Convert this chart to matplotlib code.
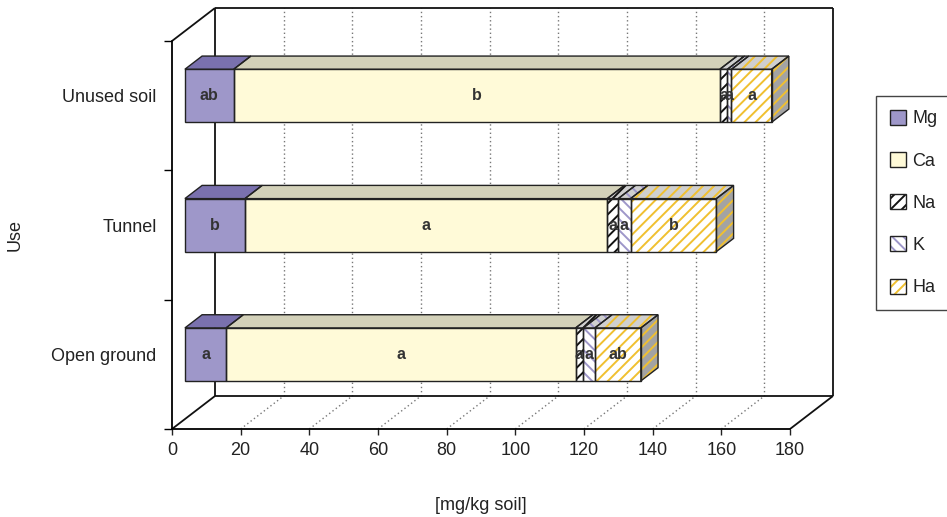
import matplotlib.pyplot as plt
from matplotlib.patches import Polygon, Patch
from matplotlib.legend_handler import HandlerTuple

plt.rcParams['font.family'] = ['Liberation Sans', 'DejaVu Sans']
plt.rcParams['hatch.linewidth'] = 1.4

# data (mg/kg soil)
uses = ['Open ground', 'Tunnel', 'Unused soil']
elements = ['Mg', 'Ca', 'Na', 'K', 'Ha']
mg = [12.0, 17.5, 14.2]
ca = [101.8, 105.5, 141.6]
na = [2.2, 3.2, 2.2]
k = [3.4, 3.6, 1.2]
ha = [13.4, 25.0, 11.7]

# significance letters
mg_letters = ['a', 'b', 'ab']
ca_letters = ['a', 'a', 'b']
na_letters = ['a', 'a', 'a']
k_letters = ['a', 'a', 'a']
ha_letters = ['ab', 'b', 'a']

xticks = list(range(0, 181, 20))

# styles
front_colors = ['#9e97c9', '#fffad8', 'white', 'white', 'white']
top_colors = ['#7a71ae', '#d3d1b9', '#cfcfcf', '#cfcfcf', '#cfcfcf']
side_color = '#a3a3a3'
hatches = [None, None, '///', '\\\\\\', '///']
hatch_colors = ['none', 'none', '#111111', '#9e97c9', '#f0c030']
txt = '#222222'

# pixel scale of the original picture
PX = 618 / 180.0
PY = 388 / 3.0
DX = 43 / PX   # depth offset, x
DY = 33 / PY   # depth offset, y
f0, f1 = 0.3, 0.7
h = 53 / PY

fig = plt.figure(figsize=(9.47, 5.17), dpi=100)
ax = fig.add_axes([172 / 947, 88 / 517, 668 / 947, 426 / 517])
ax.set_xlim(0, 668 / PX)
ax.set_ylim(0, 426 / PY)

# walls
ax.add_patch(Polygon([(DX, DY), (180 + DX, DY), (180 + DX, 3 + DY), (DX, 3 + DY)],
                     facecolor='white', edgecolor='none', zorder=0))
frame = dict(color='#111111', lw=1.3, zorder=1, solid_capstyle='butt')
ax.plot([0, DX], [0, DY], **frame)
ax.plot([0, DX], [3, 3 + DY], **frame)
ax.plot([DX, DX], [DY, 3 + DY], **frame)
ax.plot([DX, 180 + DX], [DY, DY], **frame)
ax.plot([DX, 180 + DX], [3 + DY, 3 + DY], **frame)
ax.plot([180 + DX, 180 + DX], [DY, 3 + DY], **frame)
ax.plot([180, 180 + DX], [0, DY], **frame)
for x in xticks[1:-1]:
    ax.plot([x + DX, x + DX], [DY, 3 + DY], color='#777777', lw=1, ls=(0, (1, 2)), zorder=0.5)
    ax.plot([x, x + DX], [0, DY], color='#777777', lw=1, ls=(0, (1, 2)), zorder=0.5)


def face(poly, fc, hatch, hc, z):
    ax.add_patch(Polygon(poly, facecolor=fc, edgecolor=hc, hatch=hatch, lw=0, zorder=z))
    ax.add_patch(Polygon(poly, fill=False, edgecolor='#222222', lw=1, zorder=z + 0.1))


series = [mg, ca, na, k, ha]
letters = [mg_letters, ca_letters, na_letters, k_letters, ha_letters]
for i in range(len(uses)):
    y0 = i + 0.5 - h / 2
    y1 = i + 0.5 + h / 2
    left = 0
    for j in range(len(elements)):
        a = left
        b = left + series[j][i]
        front = [(a + f0 * DX, y0 + f0 * DY), (b + f0 * DX, y0 + f0 * DY),
                 (b + f0 * DX, y1 + f0 * DY), (a + f0 * DX, y1 + f0 * DY)]
        top = [(a + f0 * DX, y1 + f0 * DY), (b + f0 * DX, y1 + f0 * DY),
               (b + f1 * DX, y1 + f1 * DY), (a + f1 * DX, y1 + f1 * DY)]
        face(front, front_colors[j], hatches[j], hatch_colors[j], 3)
        face(top, top_colors[j], hatches[j], hatch_colors[j], 3)
        if j == len(elements) - 1:
            side = [(b + f0 * DX, y0 + f0 * DY), (b + f1 * DX, y0 + f1 * DY),
                    (b + f1 * DX, y1 + f1 * DY), (b + f0 * DX, y1 + f0 * DY)]
            face(side, side_color, hatches[j], hatch_colors[j], 3)
        ax.text((a + b) / 2 + f0 * DX, i + 0.5 + f0 * DY, letters[j][i],
                ha='center', va='center', fontsize=11.5, fontweight='bold',
                color='#333333', zorder=5)
        left = b

# axes
for s in ['top', 'right']:
    ax.spines[s].set_visible(False)
ax.spines['bottom'].set_bounds(0, 180)
ax.spines['left'].set_bounds(0, 3)
ax.spines['bottom'].set_linewidth(1.3)
ax.spines['left'].set_linewidth(1.3)
ax.set_xticks(xticks)
ax.set_xticklabels([str(x) for x in xticks])
ax.tick_params(axis='x', length=4.5, width=1, pad=5, labelsize=13, colors=txt)
ax.set_yticks([i + 0.5 + f0 * DY for i in range(len(uses))])
ax.set_yticklabels(uses)
ax.tick_params(axis='y', which='major', length=0, pad=11, labelsize=13, colors=txt)
ax.set_yticks([0, 1, 2, 3], minor=True)
ax.tick_params(axis='y', which='minor', length=6, width=1)

fig.text(481 / 947, 1 - 505 / 517, '[mg/kg soil]', ha='center', va='center', fontsize=13, color=txt)
fig.text(15 / 947, 1 - 235 / 517, 'Use', ha='center', va='center', rotation=90, fontsize=13, color=txt)

handles = []
for j in range(len(elements)):
    if hatches[j]:
        handles.append((Patch(facecolor=front_colors[j], edgecolor=hatch_colors[j], hatch=hatches[j], lw=0),
                        Patch(fill=False, edgecolor='#222222', lw=1)))
    else:
        handles.append((Patch(facecolor=front_colors[j], edgecolor='#222222', lw=1),))
leg = fig.legend(handles, elements, loc='upper left', bbox_to_anchor=(876 / 947, 1 - 96 / 517),
                 fontsize=13, fancybox=False, edgecolor='#444444', framealpha=1,
                 handlelength=0.9, handleheight=0.9, labelspacing=1.36, borderpad=0.75,
                 handletextpad=0.35, borderaxespad=0,
                 handler_map={tuple: HandlerTuple(ndivide=1)})
for t in leg.get_texts():
    t.set_color(txt)

fig.savefig('out.png', dpi=100)
